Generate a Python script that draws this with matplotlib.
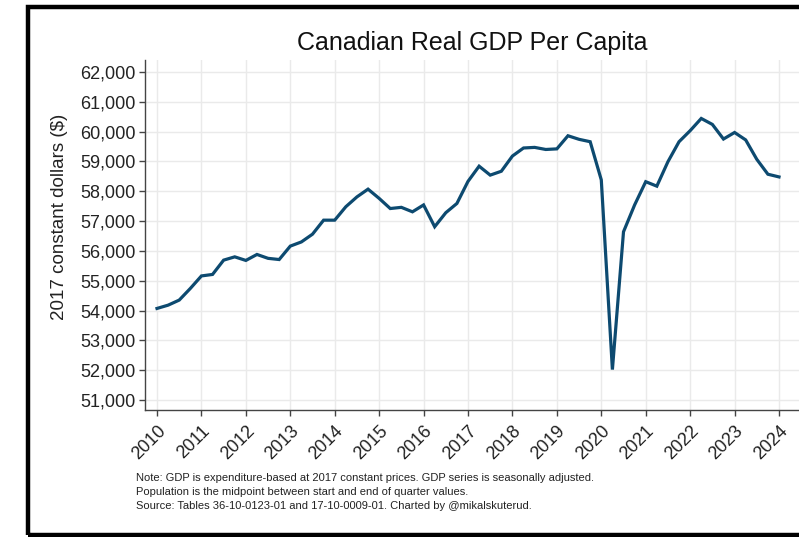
import matplotlib
matplotlib.use("Agg")
import matplotlib.pyplot as plt
from matplotlib.patches import Rectangle
from matplotlib.ticker import FuncFormatter
import numpy as np

start_year = 2010
gdp_per_capita = [
    54070, 54180, 54350, 54740,   # 2010
    55160, 55210, 55690, 55800,   # 2011
    55680, 55880, 55750, 55710,   # 2012
    56160, 56300, 56560, 57030,   # 2013
    57030, 57480, 57810, 58070,   # 2014
    57760, 57420, 57460, 57310,   # 2015
    57540, 56810, 57280, 57590,   # 2016
    58330, 58840, 58540, 58670,   # 2017
    59180, 59450, 59470, 59400,   # 2018
    59420, 59860, 59740, 59660,   # 2019
    58380, 52020, 56640, 57540,   # 2020
    58320, 58170, 58990, 59660,   # 2021
    60030, 60440, 60240, 59750,   # 2022
    59970, 59720, 59070, 58570,   # 2023
    58480,                        # 2024
]
year_ticks = list(range(2010, 2025))
y_ticks = list(range(51000, 62001, 1000))

title = "Canadian Real GDP Per Capita"
ylabel = "2017 constant dollars ($)"
note = ("Note: GDP is expenditure-based at 2017 constant prices. GDP series is seasonally adjusted.\n"
        "Population is the midpoint between start and end of quarter values.\n"
        "Source: Tables 36-10-0123-01 and 17-10-0009-01. Charted by @mikalskuterud.")

plt.rcParams['font.family'] = ['Liberation Sans', 'DejaVu Sans']

W, H = 799, 537
fig = plt.figure(figsize=(W / 100, H / 100), dpi=100)
fig.patch.set_facecolor('white')

ax = fig.add_axes([145 / W, 1 - 410 / H, 1 - 145 / W, (410 - 60) / H])
x = start_year + np.arange(len(gdp_per_capita)) / 4.0
ax.plot(x, gdp_per_capita, color='#0d4a70', lw=2.3, solid_joinstyle='miter', zorder=3)

ax.set_xlim(2009.73, 2024.45)
ax.set_ylim(50665, 62400)
ax.set_xticks(year_ticks)
ax.set_xticklabels([str(y) for y in year_ticks], rotation=45, ha='right', rotation_mode='anchor')
ax.set_yticks(y_ticks)
ax.yaxis.set_major_formatter(FuncFormatter(lambda v, p: f"{int(v):,}"))
ax.grid(True, color='#eaeaea', lw=1.0, zorder=0)
ax.set_axisbelow(True)
for s in ['top', 'right']:
    ax.spines[s].set_visible(False)
for s in ['left', 'bottom']:
    ax.spines[s].set_color('#444444')
    ax.spines[s].set_linewidth(1.0)
ax.tick_params(axis='both', direction='out', length=4, width=1.0, color='#444444',
               labelsize=13, labelcolor='#222222', pad=3)
ax.tick_params(axis='x', pad=5)
ax.set_ylabel(ylabel, fontsize=13.5, color='#222222')
ax.yaxis.set_label_coords((60 - 145) / (W - 145), (410 - 217) / 350)
ax.yaxis.label.set_va('center')

fig.text(472 / W, 1 - 43 / H, title, fontsize=18, ha='center', va='center', color='#111111')
fig.text(136 / W, 1 - 473 / H, note, fontsize=8, ha='left', va='top', color='#222222',
         linespacing=1.5)

fig.add_artist(Rectangle((28 / W, 1 - 534.5 / H), 1.1, (534.5 - 7) / H,
                         transform=fig.transFigure, fill=False, edgecolor='black',
                         lw=3.2, clip_on=False))

fig.savefig('out.png', dpi=100, facecolor='white')
